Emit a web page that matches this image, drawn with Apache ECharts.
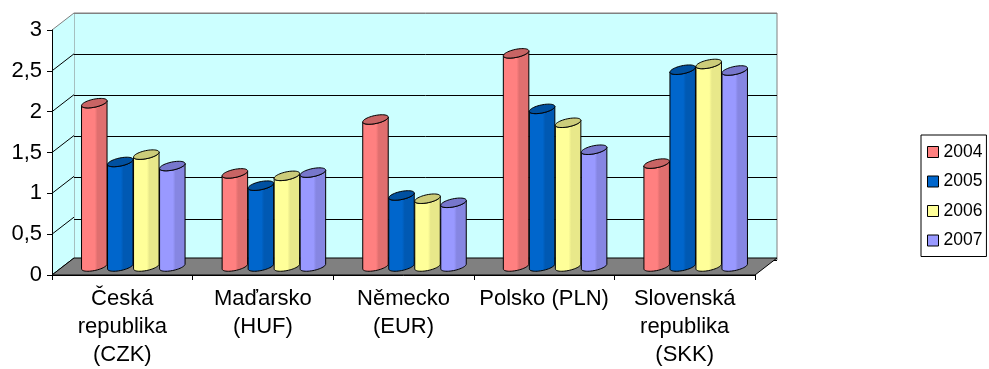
<!DOCTYPE html>
<html>
<head>
<meta charset="utf-8">
<script src="https://cdn.jsdelivr.net/npm/echarts@6/dist/echarts.min.js"></script>
<style>
  html, body { margin: 0; padding: 0; background: #fff; }
  #chart { width: 989px; height: 369px; }
</style>
</head>
<body>
<div id="chart"></div>
<script>
// Categories and values
const categories = ['Česká\nrepublika\n(CZK)', 'Maďarsko\n(HUF)', 'Německo\n(EUR)', 'Polsko (PLN)', 'Slovenská\nrepublika\n(SKK)'];
const years = ['2004', '2005', '2006', '2007'];
const values2004 = [2.00, 1.14, 1.80, 2.61, 1.26];
const values2005 = [1.28, 0.99, 0.87, 1.93, 2.41];
const values2006 = [1.37, 1.11, 0.83, 1.76, 2.48];
const values2007 = [1.23, 1.15, 0.78, 1.43, 2.40];
const yTicks = [0, 0.5, 1, 1.5, 2, 2.5, 3];

const seriesValues = [values2004, values2005, values2006, values2007];

// Look of each year's cylinders: body colour, shaded side, top cap
const palette = [
  { base: '#FF8080', dark: '#E06F6F', top: '#C86464' },
  { base: '#0066CC', dark: '#0059B3', top: '#0050A0' },
  { base: '#FFFF99', dark: '#E8E88A', top: '#CCCC7A' },
  { base: '#9999FF', dark: '#8686E2', top: '#7777CC' }
];

// Oblique depth of the 3D box (pixels)
const DEPTH_X = 22;
const DEPTH_Y = -17;
const BAR_FRAC = 0.185;
const FONT = 'Arial, "Liberation Sans", sans-serif';

const chart = echarts.init(document.getElementById('chart'), null, { renderer: 'canvas' });

function wallsItem(params, api) {
  const cs = params.coordSys;
  const L = cs.x, T = cs.y, R = cs.x + cs.width, B = cs.y + cs.height;
  const children = [];
  // side wall
  children.push({
    type: 'polygon',
    shape: { points: [[L, T], [L + DEPTH_X, T + DEPTH_Y], [L + DEPTH_X, B + DEPTH_Y], [L, B]] },
    style: { fill: '#CCFFFF', stroke: null }
  });
  // side wall grid lines
  yTicks.forEach(function (v, i) {
    const y = api.coord([0, v])[1];
    children.push({
      type: 'line',
      shape: { x1: L, y1: y, x2: L + DEPTH_X, y2: y + DEPTH_Y },
      style: { stroke: i === yTicks.length - 1 ? '#808080' : '#000', lineWidth: 1 }
    });
  });
  // floor
  children.push({
    type: 'polygon',
    shape: { points: [[L, B], [R, B], [R + DEPTH_X, B + DEPTH_Y], [L + DEPTH_X, B + DEPTH_Y]] },
    style: { fill: '#808080', stroke: '#000', lineWidth: 1 }
  });
  return { type: 'group', children: children };
}

function cylinderRenderer(seriesIdx) {
  const col = palette[seriesIdx];
  return function (params, api) {
    const cat = api.value(0);
    const val = api.value(1);
    const topPt = api.coord([cat, val]);
    const basePt = api.coord([cat, 0]);
    const w = api.size([1, 0])[0] * BAR_FRAC;
    const cx = topPt[0] + (seriesIdx - 1.5) * w + DEPTH_X / 2;
    const cyTop = topPt[1] + DEPTH_Y / 2;
    const cyBot = basePt[1] + DEPTH_Y / 2;
    const rx = w / 2, ry = 4, th = -12 * Math.PI / 180;
    const ct = Math.cos(th), st = Math.sin(th);
    const pt = function (cy, t) {
      return [cx + rx * Math.cos(t) * ct - ry * Math.sin(t) * st,
              cy + rx * Math.cos(t) * st + ry * Math.sin(t) * ct];
    };
    const t0 = Math.atan2(-ry * st, rx * ct);
    const N = 24;
    const body = [];
    for (let i = 0; i <= N; i++) body.push(pt(cyBot, t0 + Math.PI - Math.PI * i / N));
    for (let i = 0; i <= N; i++) body.push(pt(cyTop, t0 + Math.PI * i / N));
    const cap = [];
    for (let i = 0; i < 48; i++) cap.push(pt(cyTop, 2 * Math.PI * i / 48));
    const grad = new echarts.graphic.LinearGradient(0, 0, 1, 0, [
      { offset: 0, color: col.base },
      { offset: 0.52, color: col.base },
      { offset: 0.62, color: col.dark },
      { offset: 1, color: col.dark }
    ]);
    return {
      type: 'group',
      children: [
        { type: 'polygon', shape: { points: body }, style: { fill: grad, stroke: '#000', lineWidth: 1 } },
        { type: 'polygon', shape: { points: cap }, style: { fill: col.top, stroke: '#000', lineWidth: 1 } }
      ]
    };
  };
}

const series = [{
  type: 'custom',
  name: 'walls',
  xAxisIndex: 0,
  yAxisIndex: 0,
  data: [[0, 0]],
  renderItem: wallsItem,
  silent: true,
  clip: false,
  z: 1
}];

years.forEach(function (yr, i) {
  series.push({
    type: 'custom',
    name: yr,
    xAxisIndex: 0,
    yAxisIndex: 0,
    data: seriesValues[i].map(function (v, c) { return [c, v]; }),
    encode: { x: 0, y: 1 },
    renderItem: cylinderRenderer(i),
    itemStyle: { color: palette[i].base },
    clip: false,
    z: 3 + i
  });
});

chart.setOption({
  animation: false,
  backgroundColor: '#ffffff',
  grid: [
    { left: 52, top: 30, width: 703, height: 247 },
    { left: 52 + DEPTH_X, top: 30 + DEPTH_Y, width: 703, height: 247,
      show: true, backgroundColor: '#CCFFFF', borderColor: '#808080', borderWidth: 1 }
  ],
  xAxis: [
    {
      type: 'category', gridIndex: 0, data: categories, boundaryGap: true, z: 10,
      axisLine: { lineStyle: { color: '#000', width: 1 } },
      axisTick: { show: true, length: 5, alignWithLabel: false, lineStyle: { color: '#000' } },
      axisLabel: { interval: 0, margin: 10, color: '#000', fontFamily: FONT, fontSize: 22, lineHeight: 28 },
      splitLine: { show: false }
    },
    { type: 'category', gridIndex: 1, data: categories, show: false }
  ],
  yAxis: [
    {
      type: 'value', gridIndex: 0, min: 0, max: 3, interval: 0.5, z: 10,
      axisLine: { show: true, lineStyle: { color: '#000', width: 1 } },
      axisTick: { show: true, length: 5, lineStyle: { color: '#000' } },
      axisLabel: {
        margin: 10, color: '#000', fontFamily: FONT, fontSize: 22,
        formatter: function (v) { return String(v).replace('.', ','); }
      },
      splitLine: { show: false }
    },
    {
      type: 'value', gridIndex: 1, min: 0, max: 3, interval: 0.5,
      axisLine: { show: false }, axisTick: { show: false }, axisLabel: { show: false },
      splitLine: { show: true, lineStyle: { color: ['#000', '#000', '#000', '#000', '#000', '#000', '#808080'], width: 1 } }
    }
  ],
  legend: {
    orient: 'vertical',
    left: 921,
    top: 135,
    padding: [8, 4, 7, 6],
    itemGap: 11.5,
    itemWidth: 11,
    itemHeight: 11,
    itemTextGap: 6,
    selectedMode: false,
    borderColor: '#000',
    borderWidth: 1,
    backgroundColor: '#fff',
    textStyle: { color: '#000', fontFamily: FONT, fontSize: 17.5, lineHeight: 18 },
    data: years.map(function (yr, i) {
      return { name: yr, icon: 'rect', itemStyle: { color: palette[i].base, borderColor: '#000', borderWidth: 1 } };
    })
  },
  series: series
});
</script>
</body>
</html>
